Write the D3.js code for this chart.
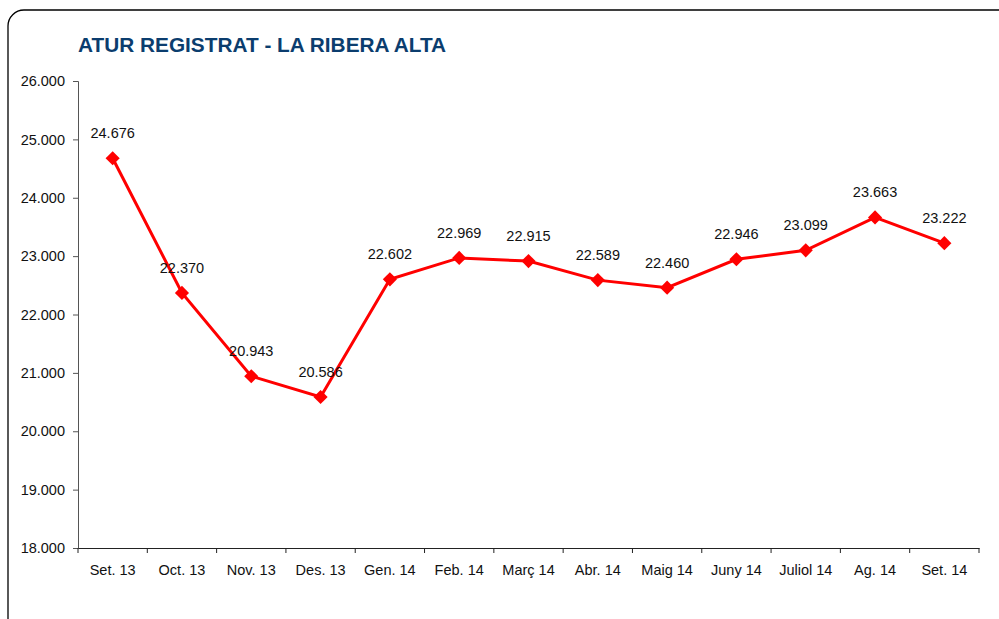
<html>
<head>
<meta charset="utf-8">
<script src="https://d3js.org/d3.v7.min.js"></script>
<style>
  body {margin: 0; background: white;}
  text {font-family: "Liberation Sans", Arial, sans-serif;}
</style>
</head>
<body>
<svg id="chart" width="999" height="619"></svg>
<script>
// data
var months = ["Set. 13","Oct. 13","Nov. 13","Des. 13","Gen. 14","Feb. 14","Març 14","Abr. 14","Maig 14","Juny 14","Juliol 14","Ag. 14","Set. 14"];
var atur = [24676, 22370, 20943, 20586, 22602, 22969, 22915, 22589, 22460, 22946, 23099, 23663, 23222];
var yTicks = [18000, 19000, 20000, 21000, 22000, 23000, 24000, 25000, 26000];

var svg = d3.select("#chart");

// rounded frame, runs off the right and bottom edges
svg.append("rect")
  .attr("x", 8).attr("y", 10)
  .attr("width", 1010).attr("height", 630)
  .attr("rx", 16).attr("ry", 16)
  .attr("fill", "white").attr("stroke", "black").attr("stroke-width", 1.3);

svg.append("text")
  .attr("x", 78).attr("y", 52)
  .attr("fill", "#0b3d6e")
  .style("font-size", "20.8px").style("font-weight", "bold")
  .text("ATUR REGISTRAT - LA RIBERA ALTA");

var plotL = 78, plotR = 979, plotT = 81, plotB = 548;

var x = d3.scaleBand().domain(months).range([plotL, plotR]);
var y = d3.scaleLinear().domain([18000, 26000]).range([plotB, plotT]);

var fmt = function(d) { return d3.format(",.0f")(d).replace(/,/g, "."); };

// y axis
var yAxis = d3.axisLeft(y).tickValues(yTicks).tickSize(5).tickPadding(8)
  .tickFormat(fmt);
var gy = svg.append("g").attr("transform", "translate(" + plotL + ",0)").call(yAxis);
gy.select(".domain").attr("stroke", "#555");
gy.selectAll(".tick line").attr("stroke", "#555");
gy.selectAll("text").style("font-size", "14.5px").attr("fill", "#111");

// x axis with ticks between categories
var xAxis = d3.axisBottom(x).tickSize(0).tickPadding(17);
var gx = svg.append("g").attr("transform", "translate(0," + plotB + ")").call(xAxis);
gx.select(".domain").attr("stroke", "#222");
gx.selectAll("text").style("font-size", "14.5px").attr("fill", "#111");
var edges = months.map(function(m) { return x(m); }).concat([plotR]);
gx.selectAll(".sep").data(edges).enter().append("line")
  .attr("class", "sep")
  .attr("x1", function(d) { return d; }).attr("x2", function(d) { return d; })
  .attr("y1", 0).attr("y2", 5)
  .attr("stroke", "#222");

var cx = function(d, i) { return x(months[i]) + x.bandwidth() / 2; };

var line = d3.line()
  .x(function(d, i) { return cx(d, i); })
  .y(function(d) { return y(d); });

svg.append("path").datum(atur)
  .attr("d", line)
  .attr("fill", "none").attr("stroke", "#ff0000").attr("stroke-width", 3);

svg.selectAll(".pt").data(atur).enter().append("path")
  .attr("class", "pt")
  .attr("d", d3.symbol().type(d3.symbolSquare).size(100))
  .attr("transform", function(d, i) { return "translate(" + cx(d, i) + "," + y(d) + ") rotate(45)"; })
  .attr("fill", "#ff0000");

svg.selectAll(".lbl").data(atur).enter().append("text")
  .attr("class", "lbl")
  .attr("x", function(d, i) { return cx(d, i); })
  .attr("y", function(d) { return y(d) - 20; })
  .attr("text-anchor", "middle")
  .style("font-size", "14.5px").attr("fill", "#111")
  .text(fmt);
</script>
</body>
</html>
